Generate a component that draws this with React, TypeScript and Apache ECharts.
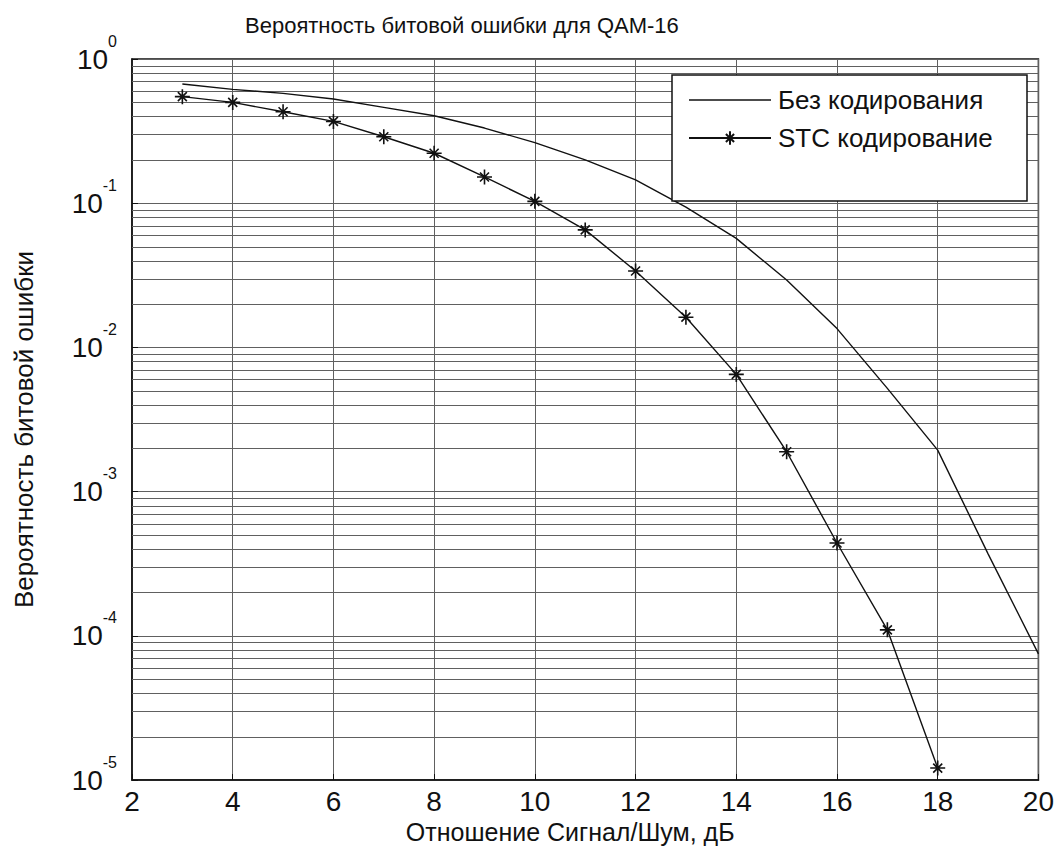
import React, { useEffect, useRef } from "react";
import * as echarts from "echarts";

const snrUncoded = [3, 4, 5, 6, 7, 8, 9, 10, 11, 12, 13, 14, 15, 16, 17, 18, 19, 20];
const berUncoded = [0.671, 0.616, 0.578, 0.528, 0.462, 0.404, 0.332, 0.263, 0.1995, 0.145, 0.094, 0.057, 0.0293, 0.0135, 0.0052, 0.00194, 0.00037, 0.000075];

const snrStc = [3, 4, 5, 6, 7, 8, 9, 10, 11, 12, 13, 14, 15, 16, 17, 18];
const berStc = [0.548, 0.5, 0.431, 0.369, 0.289, 0.222, 0.152, 0.103, 0.0653, 0.0339, 0.0162, 0.0065, 0.00189, 0.00044, 0.00011, 0.0000121];

const decades = [1e-5, 1e-4, 1e-3, 1e-2, 1e-1];
const mantissas = [2, 3, 4, 5, 6, 7, 8, 9];

const titleText = "Вероятность битовой ошибки для QAM-16";
const xName = "Отношение Сигнал/Шум, дБ";
const yName = "Вероятность битовой ошибки";
const seriesNames = ["Без кодирования", "STC кодирование"];

const FONT = "'Liberation Sans', Arial, Helvetica, sans-serif";
const STAR = "path://M0,-1L0,1M-1,0L1,0M-0.6,-0.6L0.6,0.6M-0.6,0.6L0.6,-0.6";
const LINE_ICON = "path://M0,0L82,0L82,1.3L0,1.3Z";

export default function App() {
  const ref = useRef<HTMLDivElement>(null);
  useEffect(() => {
    if (!ref.current) return;
    const chart = echarts.init(ref.current, null, { renderer: "svg" });
    const minorValues: number[][] = [];
    decades.forEach((d) => mantissas.forEach((m) => minorValues.push([2, d * m])));
    const gridColor = "#606060";
    chart.setOption({
      animation: false,
      backgroundColor: "#fff",
      title: {
        text: titleText,
        left: 240,
        top: 9,
        textStyle: { fontFamily: FONT, fontSize: 22, fontWeight: "normal", color: "#111" },
      },
      grid: {
        left: 132,
        right: 17,
        top: 59,
        bottom: 70,
        show: true,
        borderColor: "#111",
        borderWidth: 1.5,
        backgroundColor: "#fff",
      },
      legend: {
        orient: "vertical",
        left: 688,
        top: 87,
        padding: 0,
        itemWidth: 82,
        itemHeight: 17,
        itemGap: 12,
        z: 20,
        textStyle: { fontFamily: FONT, fontSize: 26, color: "#111", padding: [0, 0, 0, 2] },
        data: [{ name: seriesNames[0], icon: LINE_ICON }, { name: seriesNames[1] }],
      },
      graphic: [
        {
          type: "rect",
          z: 10,
          shape: { x: 672, y: 75, width: 355, height: 126 },
          style: { fill: "#fff", stroke: "#111", lineWidth: 1.5 },
        },
      ],
      xAxis: {
        type: "value",
        min: 2,
        max: 20,
        interval: 2,
        name: xName,
        nameLocation: "middle",
        nameGap: 38,
        nameTextStyle: { fontFamily: FONT, fontSize: 25, color: "#111", padding: [0, 30, 0, 0] },
        axisLine: { show: true, lineStyle: { color: "#111", width: 1.5 } },
        axisTick: { show: true, inside: true, length: 6, lineStyle: { color: "#111" } },
        axisLabel: { fontFamily: FONT, fontSize: 28, color: "#111", margin: 7 },
        splitLine: { show: true, lineStyle: { color: gridColor, width: 1 } },
      },
      yAxis: {
        type: "log",
        logBase: 10,
        min: 1e-5,
        max: 1,
        name: yName,
        nameLocation: "middle",
        nameGap: 95,
        nameTextStyle: { fontFamily: FONT, fontSize: 26, color: "#111", padding: [0, 20, 0, 0] },
        axisLine: { show: true, lineStyle: { color: "#111", width: 1.5 } },
        axisTick: { show: true, inside: true, length: 6, lineStyle: { color: "#111" } },
        axisLabel: {
          margin: 15,
          formatter: (v: number) => `{b|10}{e|${Math.round(Math.log10(v))}}`,
          rich: {
            b: { fontFamily: FONT, fontSize: 28, lineHeight: 28, color: "#111", padding: [12, 0, 12, 0] },
            e: { fontFamily: FONT, fontSize: 16, lineHeight: 16, color: "#111", padding: [0, 0, 36, 0] },
          },
        },
        splitLine: { show: true, lineStyle: { color: gridColor, width: 1 } },
      },
      series: [
        {
          name: "minorGrid",
          type: "custom",
          silent: true,
          z: 1,
          encode: { x: 0, y: 1 },
          data: minorValues,
          renderItem: (params: any, api: any) => {
            const v = api.value(1);
            const p1 = api.coord([2, v]);
            const p2 = api.coord([20, v]);
            const y = Math.round(p1[1]) + 0.5;
            return {
              type: "line",
              shape: { x1: p1[0], y1: y, x2: p2[0], y2: y },
              style: { stroke: gridColor, lineWidth: 1 },
            };
          },
        },
        {
          name: seriesNames[0],
          type: "line",
          data: snrUncoded.map((x, i) => [x, berUncoded[i]]),
          symbol: "none",
          lineStyle: { color: "#111", width: 1.4 },
          itemStyle: { color: "#111" },
          z: 3,
        },
        {
          name: seriesNames[1],
          type: "line",
          data: snrStc.map((x, i) => [x, berStc[i]]),
          symbol: STAR,
          symbolSize: 15,
          showAllSymbol: true,
          lineStyle: { color: "#111", width: 1.4 },
          itemStyle: { color: "none", borderColor: "#111", borderWidth: 1.6 },
          z: 4,
        },
      ],
    });
    return () => chart.dispose();
  }, []);
  return (
    <div
      ref={ref}
      style={{ position: "fixed", left: 0, top: 0, width: 1057, height: 850, background: "#fff" }}
    />
  );
}
